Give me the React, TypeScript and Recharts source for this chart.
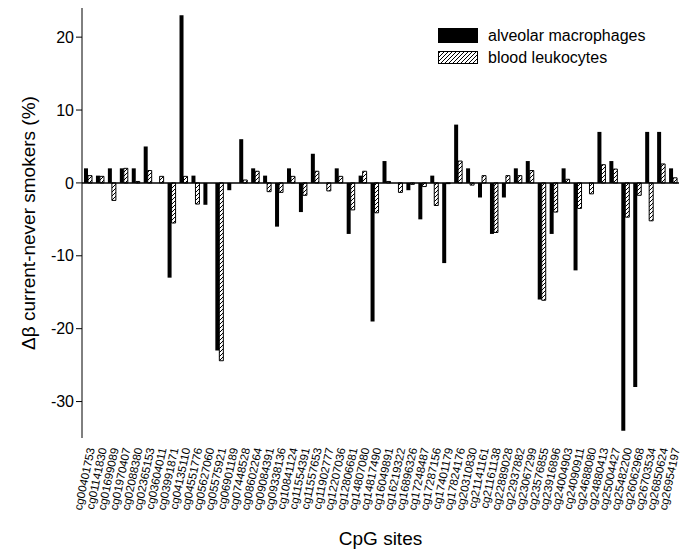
import React from 'react';
import { BarChart, Bar, XAxis, YAxis, ReferenceLine } from 'recharts';

const sites = [
  'cg00401753', 'cg01141830', 'cg01699089', 'cg01970407', 'cg02088380',
  'cg02365153', 'cg03604011', 'cg03991871', 'cg04135110', 'cg04551776',
  'cg05627060', 'cg05575921', 'cg06901189', 'cg07448528', 'cg08602264',
  'cg09084391', 'cg09338136', 'cg10841124', 'cg11554391', 'cg11557653',
  'cg11902777', 'cg12207036', 'cg12806681', 'cg14807080', 'cg14817490',
  'cg16049891', 'cg16219322', 'cg16896326', 'cg17248487', 'cg17287156',
  'cg17401179', 'cg17824176', 'cg20310830', 'cg21141161', 'cg21161138',
  'cg22889028', 'cg22937882', 'cg23067299', 'cg23576855', 'cg23916896',
  'cg24004903', 'cg24090911', 'cg24688080', 'cg24880413', 'cg25004427',
  'cg25482200', 'cg26062968', 'cg26703534', 'cg26850624', 'cg26954197',
];

const macrophages = [
  2, 1, 2, 2, 2, 5, 0, -13, 23, 1,
  -3, -23, -1, 6, 2, 1, -6, 2, -4, 4,
  0, 2, -7, 1, -19, 3, 0, -1, -5, 1,
  -11, 8, 2, -2, -7, -2, 2, 3, -16, -7,
  2, -12, 0, 7, 3, -34, -28, 7, 7, 2,
];

const leukocytes = [
  1, 0.9, -2.4, 2, 0.2, 1.7, 0.9, -5.5, 0.9, -2.9,
  0, -24.4, 0, 0.4, 1.6, -1.2, -1.3, 0.9, -1.7, 1.6,
  -1.1, 0.9, -3.7, 1.6, -4.1, 0.2, -1.3, -0.2, -0.5, -3.1,
  -0.1, 3, -0.3, 1, -6.8, 1, 1, 1.7, -16.1, -4,
  0.5, -3.5, -1.5, 2.5, 1.9, -4.7, -1.7, -5.2, 2.6, 0.7,
];

const yTicks = [-30, -20, -10, 0, 10, 20];

const data = sites.map((site, i) => ({
  site,
  macro: macrophages[i],
  blood: leukocytes[i],
}));

const font = '"Liberation Sans", Arial, sans-serif';

function SiteTick(props: any) {
  const { x, y, payload } = props;
  return (
    <g transform={`translate(${x + 3},${y + 2})`}>
      <text transform="rotate(-78)" textAnchor="end" dy={4} fontSize={11.5} fill="#000" fontFamily={font}>
        {payload.value}
      </text>
    </g>
  );
}

function HatchPattern({ id }: { id: string }) {
  return (
    <pattern id={id} patternUnits="userSpaceOnUse" width="4" height="4">
      <rect width="4" height="4" fill="#fff" />
      <path d="M-1,1 l2,-2 M0,4 l4,-4 M3,5 l2,-2" stroke="#000" strokeWidth="1" />
    </pattern>
  );
}

function ChartLegend() {
  return (
    <svg width={240} height={44} style={{ position: 'absolute', left: 435, top: 25 }}>
      <defs>
        <HatchPattern id="legendHatch" />
      </defs>
      <rect x={3} y={3} width={40} height={15} fill="#000" />
      <text x={53} y={16} fontSize={16} fontFamily={font} fill="#000">alveolar macrophages</text>
      <rect x={3.5} y={26.5} width={39} height={12} fill="url(#legendHatch)" stroke="#000" />
      <text x={53} y={38} fontSize={16} fontFamily={font} fill="#000">blood leukocytes</text>
    </svg>
  );
}

export default function App() {
  return (
    <div style={{ position: 'absolute', left: 0, top: 0, background: '#fff' }}>
      <BarChart
        width={685}
        height={549}
        data={data}
        margin={{ top: 8, right: 6, left: 0, bottom: 0 }}
        barGap={0}
        barSize={4}
      >
        <defs>
          <HatchPattern id="hatch" />
        </defs>
        <XAxis
          dataKey="site"
          interval={0}
          axisLine={false}
          tickLine={false}
          height={111}
          tick={<SiteTick />}
          label={{ value: 'CpG sites', position: 'insideBottom', offset: 4, fontSize: 19, fill: '#000', fontFamily: font }}
        />
        <YAxis
          width={82}
          domain={[-35, 24]}
          ticks={yTicks}
          allowDataOverflow
          stroke="#000"
          tickSize={6}
          tick={{ fontSize: 16, fill: '#000', fontFamily: font }}
          label={{
            value: 'Δβ current-never smokers (%)',
            angle: -90,
            position: 'insideLeft',
            offset: 28,
            style: { textAnchor: 'middle', fontSize: 19, fill: '#000', fontFamily: font },
          }}
        />
        <ReferenceLine y={0} stroke="#000" strokeWidth={1.5} />
        <Bar dataKey="macro" fill="#000" isAnimationActive={false} />
        <Bar dataKey="blood" fill="url(#hatch)" stroke="#000" strokeWidth={1} isAnimationActive={false} />
      </BarChart>
      <ChartLegend />
    </div>
  );
}
